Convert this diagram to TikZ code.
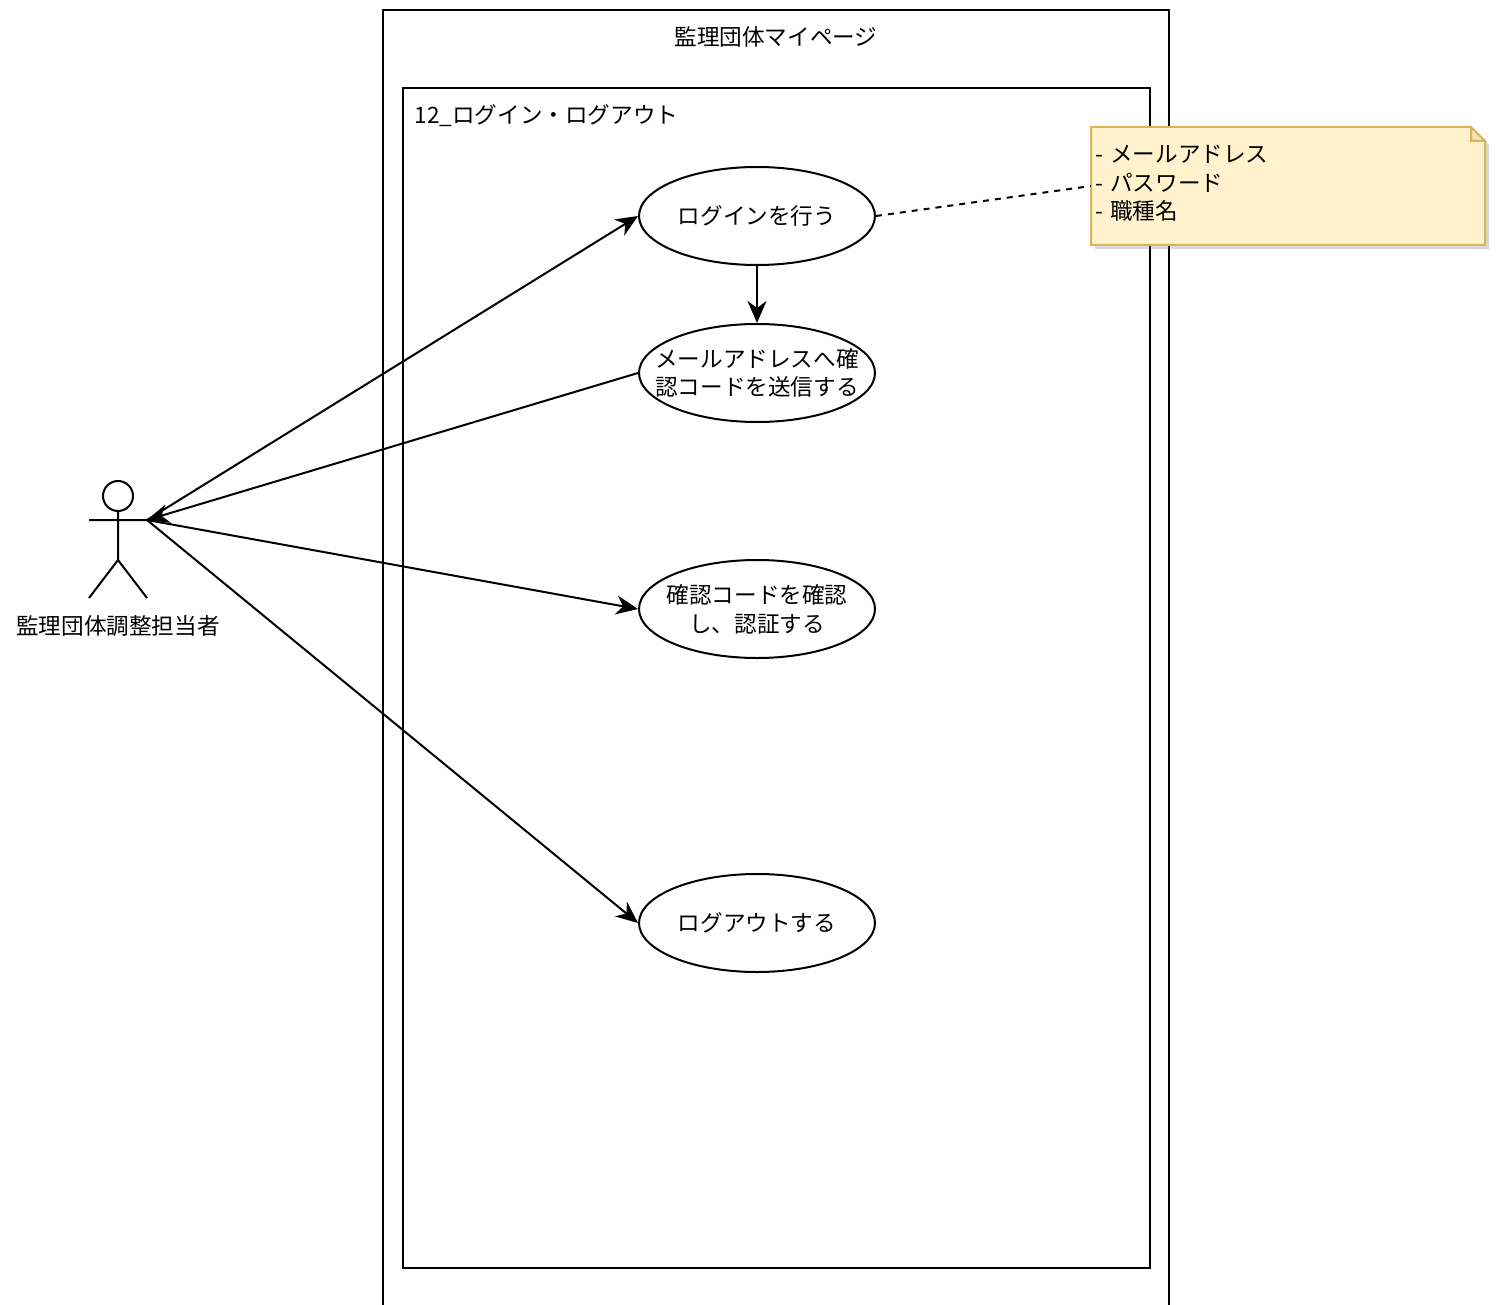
\documentclass[tikz,border=0pt]{standalone}
\usepackage{fontspec}
\setmainfont{Noto Sans CJK JP}
\usetikzlibrary{positioning,arrows.meta,shadows,backgrounds,shapes.geometric}
\definecolor{notefill}{HTML}{FFF2CC}
\definecolor{noteline}{HTML}{D6B656}
\definecolor{notefold}{HTML}{F2E3B8}

\begin{document}
\begin{tikzpicture}[x=0.5pt,y=-0.5pt,node distance=78.5pt,on grid,
	every path/.append style={line width=1pt},
	>={Stealth[length=11pt,width=9.5pt,inset=3.5pt]},
	every node/.style={font=\fontsize{11.3}{14.4}\selectfont},
	usecase/.style={ellipse,draw,minimum width=118pt,minimum height=49pt,inner xsep=-10pt,inner ysep=0pt,align=center}]
	\useasboundingbox (0,0) rectangle (1499,1305);
	\node[anchor=north west,inner xsep=1.5pt,inner ysep=8.5pt,text width=194pt,align=left] (note) at (1091,127) {- メールアドレス\\- パスワード\\- 職種名};
	\coordinate (note left) at (1091,186);
	\begin{pgfonlayer}{background}
	\draw (383,1305) -- (383,10) -- (1169,10) -- (1169,1305);
	\draw (403,88) rectangle (1150,1268);
	\filldraw[draw=noteline,fill=notefill,drop shadow={shadow xshift=2pt,shadow yshift=-2pt,opacity=0.3}]
	(1091,127) -- (1471,127) -- (1485,141) -- (1485,245) -- (1091,245) -- cycle;
	\filldraw[draw=noteline,fill=notefold] (1471,127) -- (1471,141) -- (1485,141) -- cycle;
	\end{pgfonlayer}
	\node (page title) at (776,37) {監理団体マイページ};
	\node[anchor=west] (box title) at (407,116) {12\_ログイン・ログアウト};
	\node[usecase] (login) at (757,216) {ログインを行う};
	\node[usecase] (send) [below=of login] {メールアドレスへ確\\認コードを送信する};
	\node[usecase] (verify) [below=118pt of send] {確認コードを確認\\し、認証する};
	\node[usecase] (logout) [below=157pt of verify] {ログアウトする};
	% actor
	\draw (118,496) circle[radius=7.5pt];
	\draw (118,511) -- (118,560) (89,520) -- (147,520) (89,598) -- (118,560) -- (147,598);
	\coordinate (hand) at (147,520);
	\node (actor) at (118,626) {監理団体調整担当者};
	\path[->]
	(hand) edge (login.west)
	(send.west) edge (hand)
	(hand) edge (verify.west)
	(hand) edge (logout.west)
	(login) edge (send);
	\draw[dash pattern=on 3pt off 3pt] (login.east) -- (note left);
\end{tikzpicture}
\end{document}
